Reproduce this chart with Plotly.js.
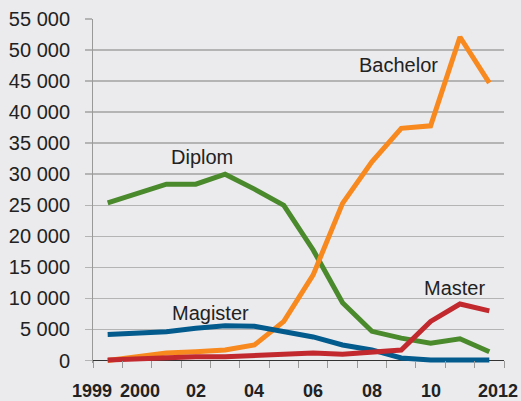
<!DOCTYPE html>
<html>
<head>
<meta charset="utf-8">
<script src="https://cdn.plot.ly/plotly-3.0.1.min.js"></script>
<style>html,body{margin:0;padding:0;background:#ebebee;}#chart{width:521px;height:401px;}</style>
</head>
<body>
<div id="chart"></div>
<script>
var years = [1999, 2000, 2001, 2002, 2003, 2004, 2005, 2006, 2007, 2008, 2009, 2010, 2011, 2012];
var diplom = [25400, 27000, 28400, 28400, 30000, 27600, 25000, 17800, 9300, 4700, 3600, 2800, 3500, 1400];
var bachelor = [0, 500, 1200, 1400, 1700, 2500, 6300, 13800, 25300, 32000, 37400, 37800, 52100, 44700];
var magister = [4200, 4400, 4650, 5200, 5600, 5500, 4600, 3800, 2500, 1700, 400, 100, 100, 100];
var master = [100, 300, 500, 600, 600, 800, 1000, 1200, 1000, 1400, 1700, 6300, 9100, 8000];

var seriesNames = ["Diplom", "Bachelor", "Magister", "Master"];
var seriesColors = ["#4b8a2c", "#f7891f", "#035a8d", "#c1292e"];

var yTickVals = [0, 5000, 10000, 15000, 20000, 25000, 30000, 35000, 40000, 45000, 50000, 55000];
var yTickText = ["0", "5 000", "10 000", "15 000", "20 000", "25 000", "30 000", "35 000", "40 000", "45 000", "50 000", "55 000"];

var xTickMarks = [1998.5, 1999.5, 2000.5, 2001.5, 2002.5, 2003.5, 2004.5, 2005.5, 2006.5, 2007.5, 2008.5, 2009.5, 2010.5, 2011.5, 2012.5];
var xLabelText = ["1999", "2000", "02", "04", "06", "08", "10", "2012"];
var xLabelPos = [1999, 2000, 2002, 2004, 2006, 2008, 2010, 2012];
var xLabelShift = [-16, 3, 0, 0, 0, 0, 0, 9];

// series label positions (data coords)
var seriesLabelX = [2002.2, 2008.9, 2002.5, 2010.8];
var seriesLabelY = [32700, 47600, 7700, 11700];

var allSeries = [diplom, bachelor, magister, master];
var traces = allSeries.map(function (vals, i) {
  return {
    x: years, y: vals, type: "scatter", mode: "lines",
    name: seriesNames[i],
    line: {color: seriesColors[i], width: 5, shape: "linear"},
    hoverinfo: "skip"
  };
});

var annotations = [];
xLabelText.forEach(function (t, i) {
  annotations.push({
    x: xLabelPos[i], xref: "x", y: -0.08, yref: "paper", xshift: xLabelShift[i],
    text: t, showarrow: false, xanchor: "center", yanchor: "middle",
    font: {family: "Liberation Sans, Arial, sans-serif", size: 18, color: "#222", weight: "bold"}
  });
});
seriesNames.forEach(function (n, i) {
  annotations.push({
    x: seriesLabelX[i], xref: "x", y: seriesLabelY[i], yref: "y",
    text: n, showarrow: false, xanchor: "center", yanchor: "middle",
    font: {family: "Liberation Sans, Arial, sans-serif", size: 20, color: "#222"}
  });
});

var layout = {
  width: 521, height: 401,
  paper_bgcolor: "#ebebee", plot_bgcolor: "#ebebee",
  margin: {l: 93, r: 17, t: 19, b: 38, pad: 0},
  showlegend: false,
  font: {family: "Liberation Sans, Arial, sans-serif", color: "#222"},
  xaxis: {
    range: [1998.5, 2012.5],
    tickmode: "array", tickvals: xTickMarks, showticklabels: false,
    ticks: "outside", ticklen: 7, tickcolor: "#999", tickwidth: 1,
    showgrid: false, zeroline: false, showline: false,
    anchor: "free", position: 0.0073
  },
  yaxis: {
    range: [-400, 55000],
    tickmode: "array", tickvals: yTickVals, ticktext: yTickText,
    ticks: "outside", ticklen: 7, tickcolor: "#b4b4b4", tickwidth: 1.5,
    ticklabelstandoff: 11,
    tickfont: {size: 20, color: "#222"},
    showgrid: true, gridcolor: "#b4b4b4", gridwidth: 1.5,
    zeroline: true, zerolinecolor: "#333", zerolinewidth: 1.5,
    showline: true, linecolor: "#999", linewidth: 1
  },
  annotations: annotations
};

Plotly.newPlot("chart", traces, layout, {displayModeBar: false, staticPlot: true});
</script>
</body>
</html>
